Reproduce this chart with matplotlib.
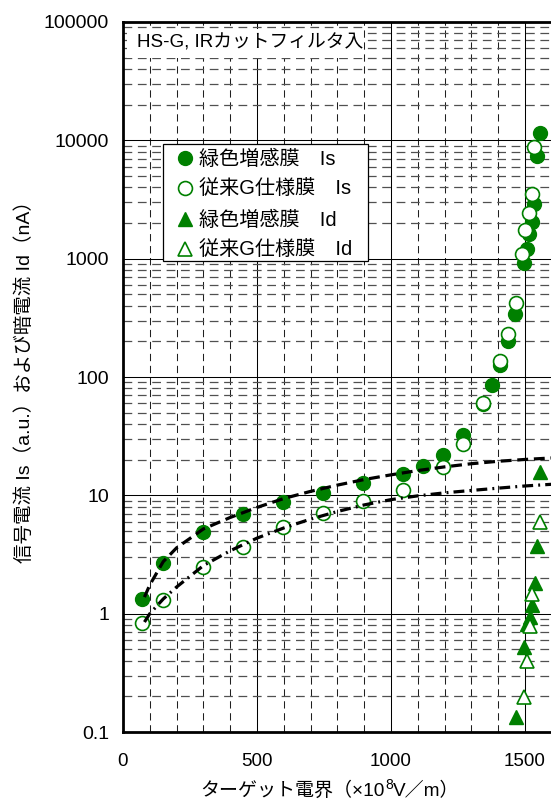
import matplotlib
matplotlib.use("Agg")
import matplotlib.pyplot as plt
from matplotlib.lines import Line2D
from matplotlib.patches import Rectangle
from matplotlib.ticker import LogLocator, MultipleLocator, FixedLocator, NullFormatter, FuncFormatter

CJK = ['Liberation Sans', 'Noto Sans CJK JP', 'DejaVu Sans']
plt.rcParams['font.family'] = CJK

# --- measured data (field in 1e8 V/m) ---
green_is_x = [72, 150, 300, 449, 598, 747, 897, 1046, 1120, 1195, 1270, 1344, 1376,
              1407, 1435, 1464, 1496, 1506, 1515, 1525, 1535, 1546, 1556]
green_is_y = [1.33, 2.67, 4.94, 6.92, 8.83, 10.5, 12.8, 15.2, 17.6, 21.9, 32.1, 58.6, 85.7,
              127, 201, 339, 927, 1202, 1608, 2045, 2925, 7350, 11570]

conv_is_x = [72, 150, 297, 447, 596, 747, 897, 1046, 1195, 1270, 1344, 1407, 1435,
             1466, 1488, 1500, 1515, 1527, 1535]
conv_is_y = [0.84, 1.31, 2.50, 3.69, 5.37, 7.06, 9.04, 11.1, 17.5, 27.3, 60.1, 136, 232,
             425, 1104, 1738, 2437, 3508, 8810]

green_id_x = [1466, 1497, 1509, 1519, 1527, 1538, 1546, 1556]
green_id_y = [0.133, 0.526, 0.81, 0.93, 1.19, 1.82, 3.71, 15.9]

conv_id_x = [1497, 1506, 1519, 1527, 1556]
conv_id_y = [0.196, 0.40, 0.79, 1.47, 5.92]

# trend curves
green_fit_x = [80, 100, 150, 200, 300, 400, 500, 600, 700, 800, 900, 1000, 1100, 1200, 1300, 1400, 1500, 1600]
green_fit_y = [1.38, 1.75, 2.75, 3.6, 5.2, 6.5, 7.9, 9.4, 10.8, 12.2, 13.6, 14.9, 16.2, 17.4, 18.5, 19.4, 20.1, 20.7]

conv_fit_x = [80, 100, 150, 200, 300, 400, 500, 600, 700, 800, 900, 1000, 1100, 1200, 1300, 1400, 1500, 1600]
conv_fit_y = [0.85, 1.0, 1.33, 1.68, 2.55, 3.4, 4.35, 5.3, 6.3, 7.3, 8.3, 9.2, 9.9, 10.5, 11.0, 11.5, 12.0, 12.4]

x_ticks = [0, 500, 1000, 1500]
y_ticks = [0.1, 1, 10, 100, 1000, 10000, 100000]

labels = ['緑色増感膜　Is', '従来G仕様膜　Is', '緑色増感膜　Id', '従来G仕様膜　Id']

GREEN = '#008000'
W, H = 551, 805

fig = plt.figure(figsize=(W / 100, H / 100), dpi=100)
ax = fig.add_axes([123 / W, 73 / H, 428.8 / W, 710 / H])

ax.set_yscale('log')
ax.set_xlim(0, 1600)
ax.set_ylim(0.1, 100000)

# grid
ax.xaxis.set_major_locator(FixedLocator(x_ticks))
ax.xaxis.set_minor_locator(MultipleLocator(100))
ax.yaxis.set_major_locator(FixedLocator(y_ticks))
ax.yaxis.set_minor_locator(LogLocator(base=10, subs=range(2, 10), numticks=20))
ax.yaxis.set_minor_formatter(NullFormatter())
ax.yaxis.set_major_formatter(FuncFormatter(lambda v, p: ('%g' % v) if v < 1 else '%d' % int(round(v))))

ax.grid(which='major', axis='both', color='black', lw=0.75, ls='-', zorder=0)
ax.grid(which='minor', axis='x', color='#202020', lw=0.75, ls=(0, (7, 4.5)), zorder=0)
ax.grid(which='minor', axis='y', color='#505050', lw=0.9, ls=(0, (7, 4.5)), zorder=0)
ax.set_axisbelow(True)

ax.tick_params(which='both', length=0)
ax.tick_params(axis='x', which='major', pad=15, labelsize=13.5)
ax.tick_params(axis='y', which='major', pad=10, labelsize=14)

for s in ax.spines.values():
    s.set_linewidth(2.0)
    s.set_color('black')
    s.set_zorder(7)

ms = 10
ax.plot(green_is_x, green_is_y, ls='none', marker='o', ms=ms, mfc=GREEN, mec=GREEN, zorder=3)
ax.plot(conv_is_x, conv_is_y, ls='none', marker='o', ms=ms, mfc='white', mec=GREEN, mew=1.2, zorder=3)
ax.plot(green_id_x, green_id_y, ls='none', marker='^', ms=ms, mfc=GREEN, mec=GREEN, zorder=3)
ax.plot(conv_id_x, conv_id_y, ls='none', marker='^', ms=ms, mfc='white', mec=GREEN, mew=1.2, zorder=3)

ax.plot(green_fit_x, green_fit_y, color='black', lw=2.3, ls=(0, (3.4, 1.8)), zorder=4,
        dash_capstyle='butt')
ax.plot(conv_fit_x, conv_fit_y, color='black', lw=2.3, ls=(0, (3.4, 1.6, 0.6, 1.6)), zorder=4,
        dash_capstyle='butt')

# legend: entries without frame, box drawn separately
handles = [
    Line2D([], [], ls='none', marker='o', ms=ms, mfc=GREEN, mec=GREEN),
    Line2D([], [], ls='none', marker='o', ms=ms, mfc='white', mec=GREEN, mew=1.2),
    Line2D([], [], ls='none', marker='^', ms=ms, mfc=GREEN, mec=GREEN),
    Line2D([], [], ls='none', marker='^', ms=ms, mfc='white', mec=GREEN, mew=1.2),
]
leg = ax.legend(handles, labels, loc='upper left', bbox_to_anchor=(177 / W, 1 - 150 / H),
                bbox_transform=fig.transFigure, borderaxespad=0, frameon=False,
                prop={'family': CJK, 'size': 14.5},
                handlelength=0.8, handletextpad=0.3, labelspacing=0.56, borderpad=0.0)
leg.set_zorder(6)
frame = Rectangle((163 / W, 1 - 261 / H), 205 / W, 117 / H, transform=fig.transFigure,
                  facecolor='white', edgecolor='black', lw=0.9, zorder=5)
ax.add_artist(frame)
frame.set_clip_on(False)

# sample label inside the plot, on a white patch
title_bg = Rectangle((127 / W, 1 - 58 / H), 236 / W, 29 / H, transform=fig.transFigure,
                     facecolor='white', edgecolor='none', zorder=5)
ax.add_artist(title_bg)
title_bg.set_clip_on(False)
ax.text(137 / W, 1 - 43 / H, 'HS-G, IRカットフィルタ入', family=CJK, fontsize=13.5,
        ha='left', va='center', transform=fig.transFigure, zorder=6)

fig.text(25 / W, 1 - 563 / H, '信号電流 Is（a.u.）および暗電流 Id（nA）', family=CJK, fontsize=14,
         rotation=90, ha='center', va='bottom')

# x-axis title with a raised exponent
xl_parts = [('ターゲット電界（×10', 13.7, 0), ('8', 10, 7), ('V／m）', 13.7, 0)]
xl_texts = [fig.text(0, 0, s, family=CJK, fontsize=fs, ha='left', va='baseline')
            for s, fs, _ in xl_parts]
fig.canvas.draw()
r = fig.canvas.get_renderer()
widths = [t.get_window_extent(r).width for t in xl_texts]
x = 330 - sum(widths) / 2
base = 9
for t, (s, fs, rise), w in zip(xl_texts, xl_parts, widths):
    t.set_position((x / W, (base + rise) / H))
    x += w

fig.savefig('out.png', dpi=100)
